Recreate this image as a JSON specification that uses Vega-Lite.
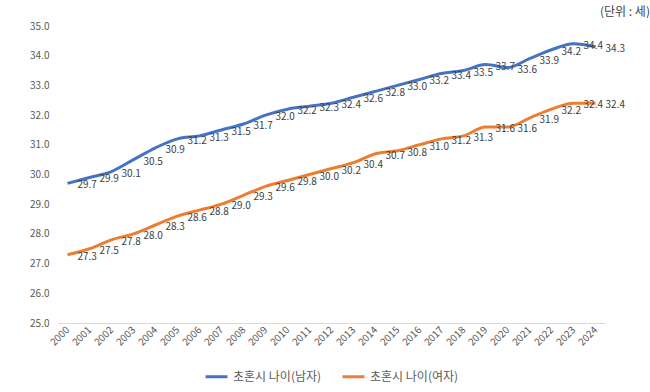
{
  "$schema": "https://vega.github.io/schema/vega-lite/v6.json",
  "width": 547,
  "height": 297,
  "autosize": {"type": "none"},
  "padding": {"left": 58, "top": 26, "right": 45, "bottom": 69},
  "background": "white",
  "config": {
    "font": "Noto Sans CJK KR",
    "view": {"stroke": null},
    "legend": {"layout": {"bottom": {"anchor": "middle"}}}
  },
  "title": {
    "text": "(단위 :  세)",
    "anchor": "end",
    "orient": "top",
    "fontSize": 12,
    "fontWeight": "normal",
    "color": "#404040",
    "dx": 25,
    "offset": 2
  },
  "data": {
    "values": [
      {"year": "2000", "series": "초혼시 나이(남자)", "value": 29.7},
      {"year": "2001", "series": "초혼시 나이(남자)", "value": 29.9},
      {"year": "2002", "series": "초혼시 나이(남자)", "value": 30.1},
      {"year": "2003", "series": "초혼시 나이(남자)", "value": 30.5},
      {"year": "2004", "series": "초혼시 나이(남자)", "value": 30.9},
      {"year": "2005", "series": "초혼시 나이(남자)", "value": 31.2},
      {"year": "2006", "series": "초혼시 나이(남자)", "value": 31.3},
      {"year": "2007", "series": "초혼시 나이(남자)", "value": 31.5},
      {"year": "2008", "series": "초혼시 나이(남자)", "value": 31.7},
      {"year": "2009", "series": "초혼시 나이(남자)", "value": 32.0},
      {"year": "2010", "series": "초혼시 나이(남자)", "value": 32.2},
      {"year": "2011", "series": "초혼시 나이(남자)", "value": 32.3},
      {"year": "2012", "series": "초혼시 나이(남자)", "value": 32.4},
      {"year": "2013", "series": "초혼시 나이(남자)", "value": 32.6},
      {"year": "2014", "series": "초혼시 나이(남자)", "value": 32.8},
      {"year": "2015", "series": "초혼시 나이(남자)", "value": 33.0},
      {"year": "2016", "series": "초혼시 나이(남자)", "value": 33.2},
      {"year": "2017", "series": "초혼시 나이(남자)", "value": 33.4},
      {"year": "2018", "series": "초혼시 나이(남자)", "value": 33.5},
      {"year": "2019", "series": "초혼시 나이(남자)", "value": 33.7},
      {"year": "2020", "series": "초혼시 나이(남자)", "value": 33.6},
      {"year": "2021", "series": "초혼시 나이(남자)", "value": 33.9},
      {"year": "2022", "series": "초혼시 나이(남자)", "value": 34.2},
      {"year": "2023", "series": "초혼시 나이(남자)", "value": 34.4},
      {"year": "2024", "series": "초혼시 나이(남자)", "value": 34.3},
      {"year": "2000", "series": "초혼시 나이(여자)", "value": 27.3},
      {"year": "2001", "series": "초혼시 나이(여자)", "value": 27.5},
      {"year": "2002", "series": "초혼시 나이(여자)", "value": 27.8},
      {"year": "2003", "series": "초혼시 나이(여자)", "value": 28.0},
      {"year": "2004", "series": "초혼시 나이(여자)", "value": 28.3},
      {"year": "2005", "series": "초혼시 나이(여자)", "value": 28.6},
      {"year": "2006", "series": "초혼시 나이(여자)", "value": 28.8},
      {"year": "2007", "series": "초혼시 나이(여자)", "value": 29.0},
      {"year": "2008", "series": "초혼시 나이(여자)", "value": 29.3},
      {"year": "2009", "series": "초혼시 나이(여자)", "value": 29.6},
      {"year": "2010", "series": "초혼시 나이(여자)", "value": 29.8},
      {"year": "2011", "series": "초혼시 나이(여자)", "value": 30.0},
      {"year": "2012", "series": "초혼시 나이(여자)", "value": 30.2},
      {"year": "2013", "series": "초혼시 나이(여자)", "value": 30.4},
      {"year": "2014", "series": "초혼시 나이(여자)", "value": 30.7},
      {"year": "2015", "series": "초혼시 나이(여자)", "value": 30.8},
      {"year": "2016", "series": "초혼시 나이(여자)", "value": 31.0},
      {"year": "2017", "series": "초혼시 나이(여자)", "value": 31.2},
      {"year": "2018", "series": "초혼시 나이(여자)", "value": 31.3},
      {"year": "2019", "series": "초혼시 나이(여자)", "value": 31.6},
      {"year": "2020", "series": "초혼시 나이(여자)", "value": 31.6},
      {"year": "2021", "series": "초혼시 나이(여자)", "value": 31.9},
      {"year": "2022", "series": "초혼시 나이(여자)", "value": 32.2},
      {"year": "2023", "series": "초혼시 나이(여자)", "value": 32.4},
      {"year": "2024", "series": "초혼시 나이(여자)", "value": 32.4}
    ]
  },
  "encoding": {
    "x": {
      "field": "year",
      "type": "ordinal",
      "scale": {"type": "point", "padding": 0.43},
      "axis": {
        "title": null,
        "labelAngle": -45,
        "labelAlign": "right",
        "labelBaseline": "middle",
        "labelPadding": 5,
        "labelFontSize": 10,
        "labelColor": "#595959",
        "ticks": false,
        "domainColor": "#d9d9d9",
        "domainWidth": 1,
        "grid": false
      }
    },
    "y": {
      "field": "value",
      "type": "quantitative",
      "scale": {"domain": [25, 35], "nice": false, "zero": false},
      "axis": {
        "title": null,
        "values": [25, 26, 27, 28, 29, 30, 31, 32, 33, 34, 35],
        "format": ".1f",
        "labelFontSize": 10,
        "labelColor": "#595959",
        "labelPadding": 9,
        "ticks": false,
        "domain": false,
        "grid": false
      }
    },
    "color": {
      "field": "series",
      "type": "nominal",
      "scale": {
        "domain": ["초혼시 나이(남자)", "초혼시 나이(여자)"],
        "range": ["#4472C4", "#ED7D31"]
      },
      "legend": {
        "title": null,
        "orient": "bottom",
        "direction": "horizontal",
        "symbolType": "stroke",
        "symbolSize": 480,
        "symbolStrokeWidth": 3,
        "labelFontSize": 12,
        "labelColor": "#595959",
        "columnPadding": 14,
        "offset": 16
      }
    }
  },
  "layer": [
    {
      "mark": {"type": "line", "strokeWidth": 3, "interpolate": "monotone"}
    },
    {
      "mark": {
        "type": "text",
        "align": "left",
        "baseline": "middle",
        "dx": 10,
        "dy": 2,
        "fontSize": 10,
        "color": "#404040"
      },
      "encoding": {
        "text": {"field": "value", "type": "quantitative", "format": ".1f"},
        "color": {"value": "#404040"}
      }
    }
  ]
}
